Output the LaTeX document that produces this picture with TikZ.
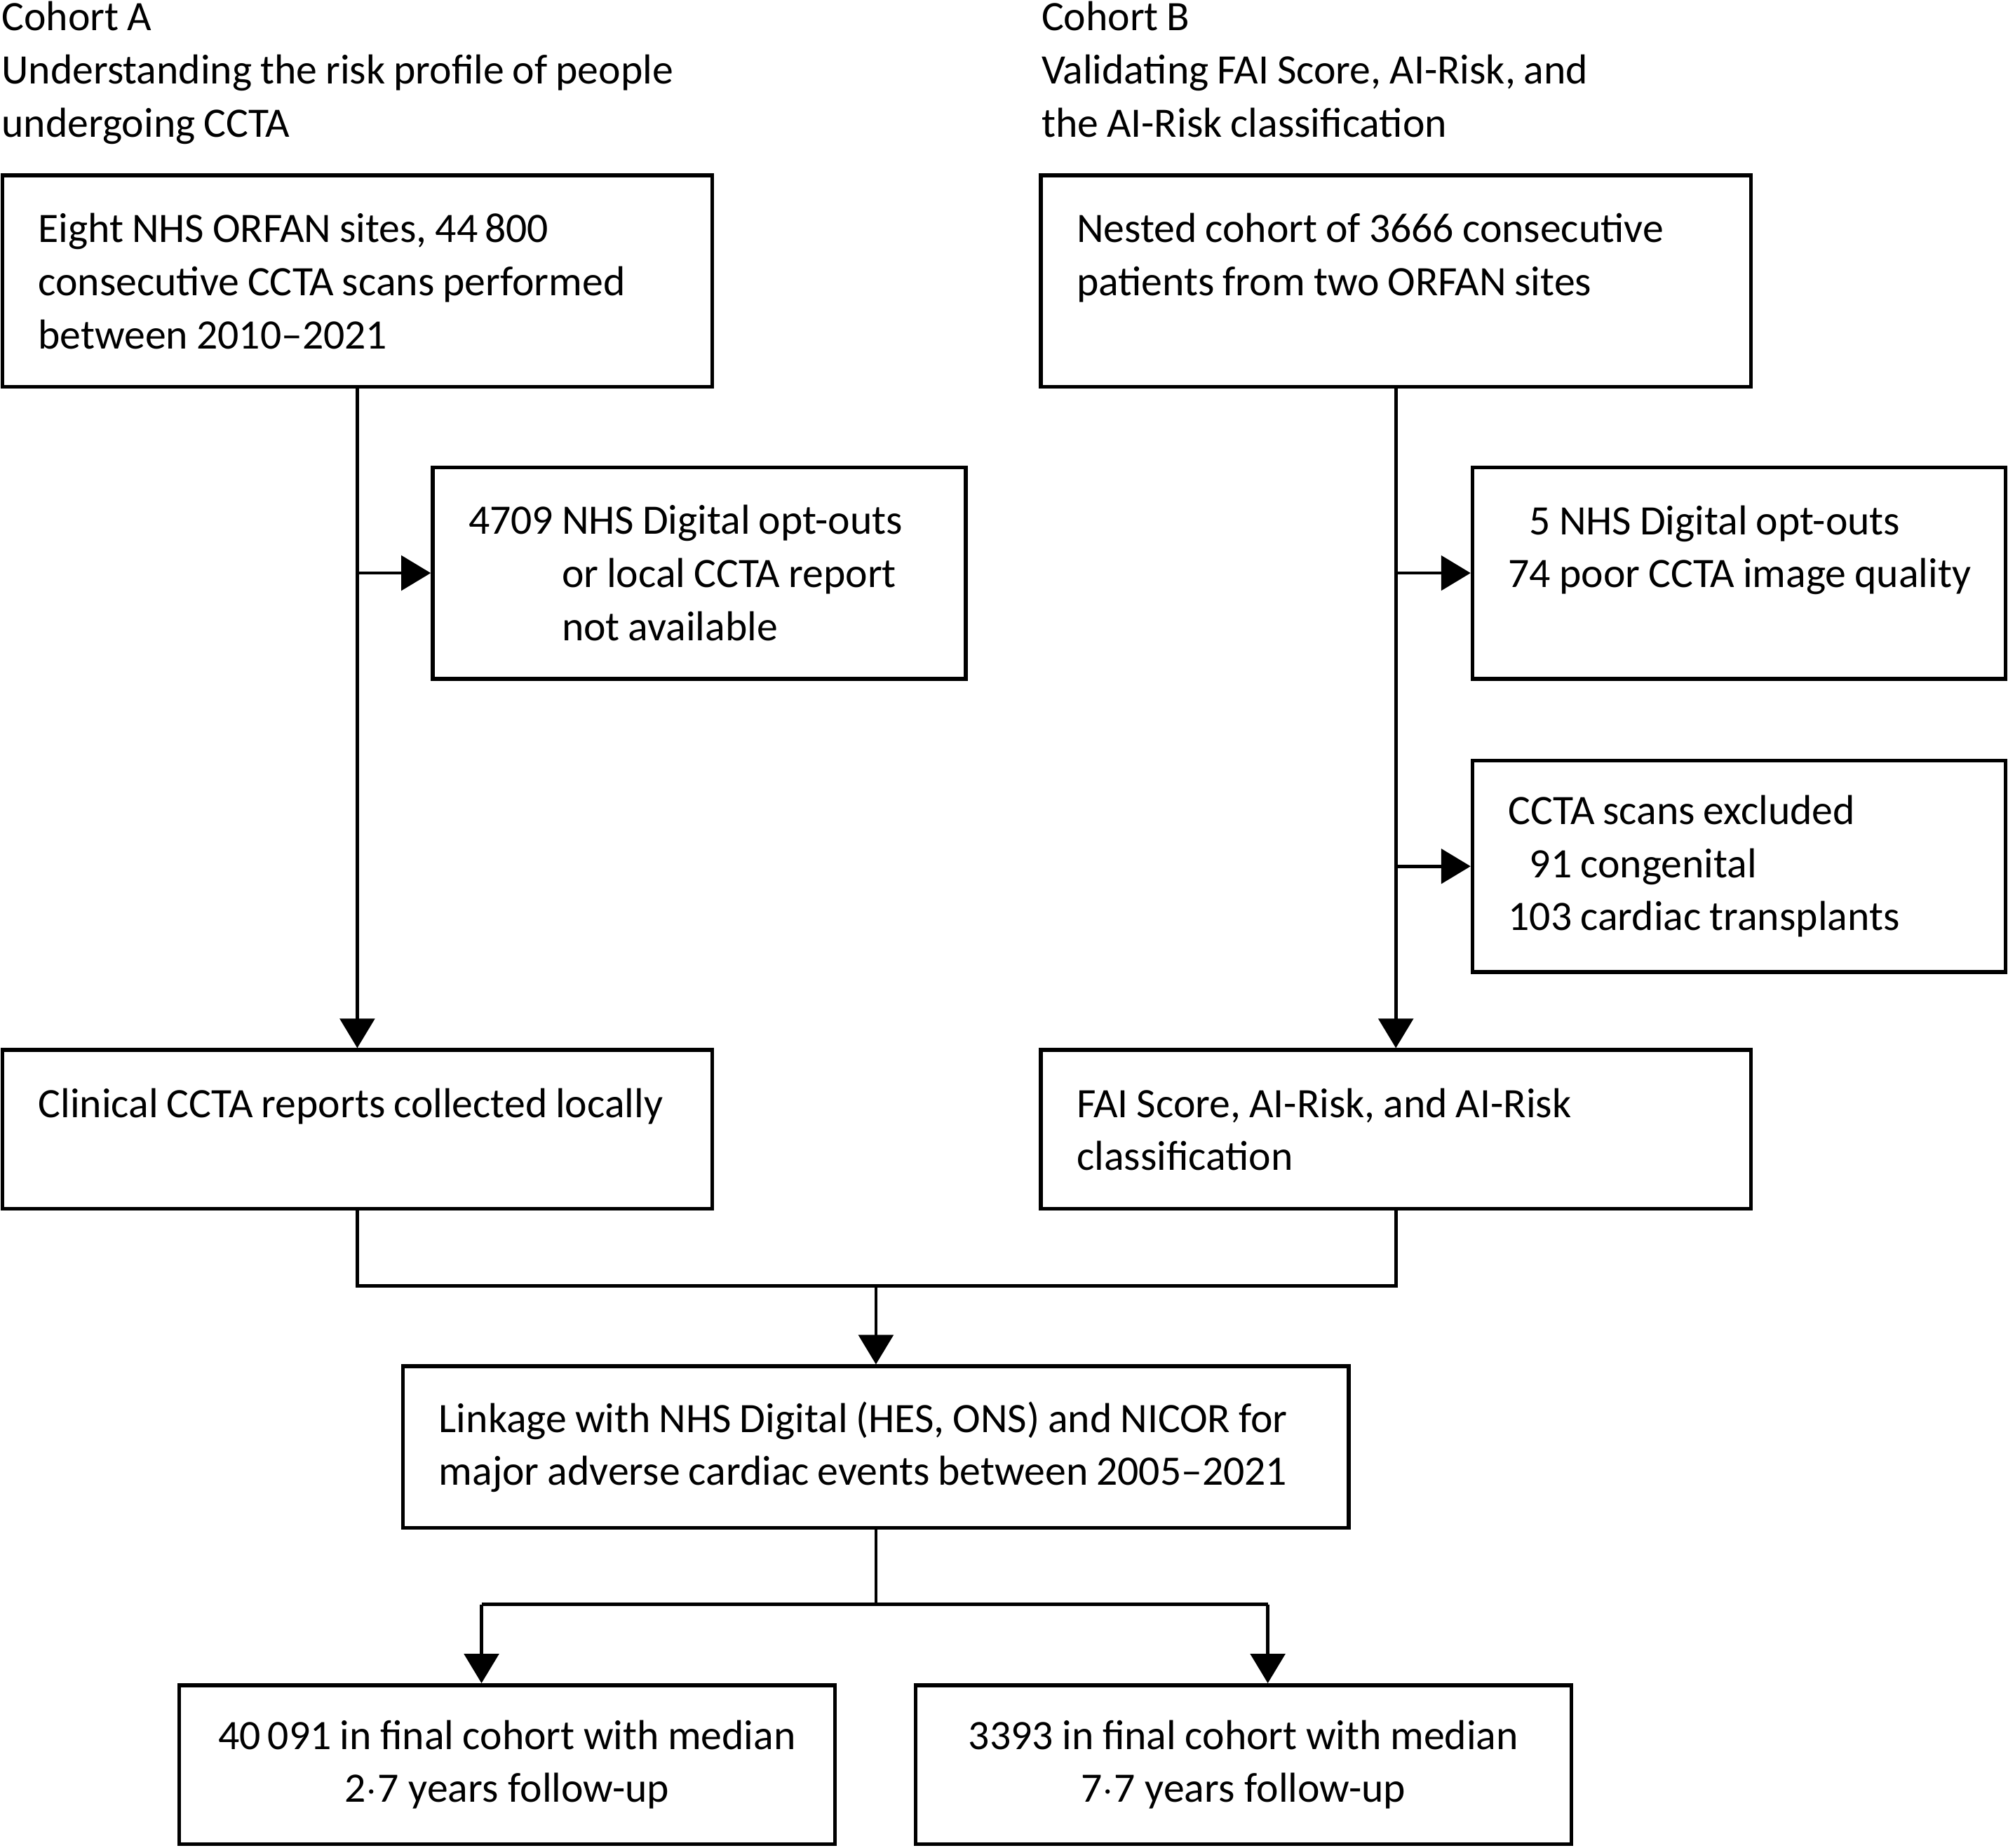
\documentclass[tikz,border=0pt]{standalone}
\usepackage{fontspec}
\setmainfont{Carlito}
\usetikzlibrary{positioning,arrows.meta}

\begin{document}
\begin{tikzpicture}[%
    x=0.01cm,y=-0.01cm,line width=0.75pt,>={Triangle[length=0.23cm,width=0.27cm]},
    font=\fontsize{9.3}{11.8}\selectfont,
    every node/.style={execute at begin node={\spaceskip=0.2em plus 0.02em\relax\hyphenpenalty=10000\relax}},
    stage/.style={draw,line width=0.85pt,inner xsep=0.28cm,inner ysep=0pt,align=left},
    wide/.style={stage,text width=4.98cm},
    side/.style={stage,text width=3.6cm,minimum height=1.65cm},
    final/.style={stage,inner xsep=0.1cm,text width=4.92cm,align=center,minimum height=1.24cm},
    head/.style={anchor=north west,inner sep=0pt,align=left}
  ]
    \useasboundingbox (0,0) rectangle (1568,1443);

    % cohort headings
    \node[head] (hdA) at (0,0) {Cohort A\\Understanding the risk profile of people\\undergoing CCTA};
    \node[head] (hdB) at (812,0) {Cohort B\\Validating FAI Score, AI-Risk, and\\the AI-Risk classification};

    % cohort A
    \node[wide,minimum height=1.65cm] (srcA) at (279,219.5)
      {Eight NHS ORFAN sites, 44\,800\\consecutive CCTA scans performed\\between 2010--2021};
    \node[side] (exA) at (546,447.5)
      {4709 NHS Digital opt-outs\\\phantom{4709 }or local CCTA report\\\phantom{4709 }not available};
    \node[wide,minimum height=1.24cm] (repA) at (279,882)
      {Clinical CCTA reports collected locally\\~};

    % cohort B
    \node[wide,minimum height=1.65cm] (srcB) at (1090,219.5)
      {Nested cohort of 3666 consecutive\\patients from two ORFAN sites\\~};
    \node[side] (exB1) at (1358,447.5)
      {\phantom{7}5 NHS Digital opt-outs\\\mbox{74 poor CCTA image quality}\\~};
    \node[side] (exB2) at (1358,676.5)
      {CCTA scans excluded\\\phantom{1}91 congenital\\103 cardiac transplants};
    \node[wide,minimum height=1.24cm] (repB) at (1090,882)
      {FAI Score, AI-Risk, and AI-Risk\\classification};

    % linkage and final cohorts
    \node[stage,text width=6.82cm,minimum height=1.26cm] (link) at (684,1130)
      {Linkage with NHS Digital (HES, ONS) and NICOR for\\major adverse cardiac events between 2005--2021};
    \node[final] (finA) at (396,1378)
      {40\,091 in final cohort with median\\2$\cdot$7 years follow-up};
    \node[final] (finB) at (971,1378)
      {3393 in final cohort with median\\7$\cdot$7 years follow-up};

    \coordinate (merge) at (684,1004);
    \coordinate (splitA) at (376,1253);
    \coordinate (splitB) at (990,1253);

    \draw[->] (srcA.south) -- (repA.north);
    \draw[->] (srcA.south |- exA.west) -- (exA.west);
    \draw[->] (srcB.south) -- (repB.north);
    \draw[->] (srcB.south |- exB1.west) -- (exB1.west);
    \draw[->] (srcB.south |- exB2.west) -- (exB2.west);

    \draw (repA.south) |- (merge) -| (repB.south);
    \draw[->] (merge) -- (link.north);
    \draw (link.south) -- (link.south |- splitA);
    \draw (splitA) -- (splitB);
    \draw[->] (splitA) -- (splitA |- finA.north);
    \draw[->] (splitB) -- (splitB |- finB.north);
\end{tikzpicture}
\end{document}
